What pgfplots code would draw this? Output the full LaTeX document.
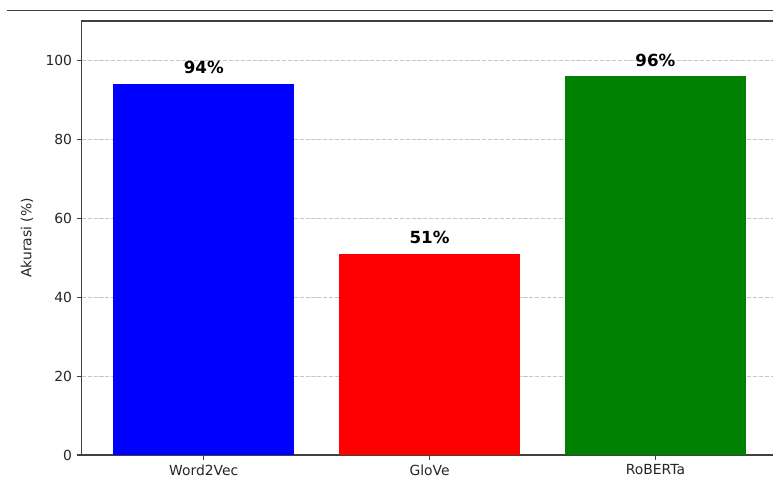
\documentclass[border=0pt]{standalone}
\usepackage{fontspec}
\setmainfont{DejaVu Sans}
\usepackage{pgfplots}
\pgfplotsset{compat=1.18}
\definecolor{mblue}{RGB}{0,0,255}
\definecolor{mred}{RGB}{255,0,0}
\definecolor{mgreen}{RGB}{0,128,0}
\begin{document}
\begin{tikzpicture}
\useasboundingbox (0,0) rectangle (556.56pt,345.6pt);
\draw[black!75, line width=0.8pt] (5pt,338.2pt) -- (560pt,338.2pt);
\begin{axis}[
  at={(58.9pt,18pt)}, anchor=south west,
  scale only axis, width=500.8pt, height=312.5pt,
  ybar, bar width=0.8, bar shift=0pt,
  xmin=-0.54, xmax=2.54, ymin=0, ymax=110,
  xtick={0,1,2}, xticklabels={Word2Vec,GloVe,RoBERTa},
  ytick={0,20,40,60,80,100},
  xtick pos=bottom, ytick pos=left, tick align=outside,
  major tick length=3.5pt,
  every tick/.style={black!75, line width=0.8pt},
  axis line style={black!75, line width=0.8pt},
  tick label style={font=\fontsize{10}{12}\selectfont, black!85},
  /pgf/number format/assume math mode=true,
  ymajorgrids, grid style={color=black!22, line width=0.8pt, dash pattern=on 2.96pt off 1.28pt},
  ylabel={Akurasi (\%)},
  ylabel style={font=\fontsize{10}{12}\selectfont, black!85, at={(axis description cs:-0.0788,0.5)}, anchor=center},
  nodes near coords={\pgfmathprintnumber{\pgfplotspointmeta}\%},
  point meta=y,
  nodes near coords style={anchor=base, yshift=7.3pt, inner sep=0pt, font=\bfseries\fontsize{12}{14}\selectfont, black},
  every axis plot/.append style={draw=none},
]
\addplot[fill=mblue, draw=none] coordinates {(0,94)};
\addplot[fill=mred, draw=none] coordinates {(1,51)};
\addplot[fill=mgreen, draw=none] coordinates {(2,96)};
\end{axis}
\end{tikzpicture}
\end{document}
